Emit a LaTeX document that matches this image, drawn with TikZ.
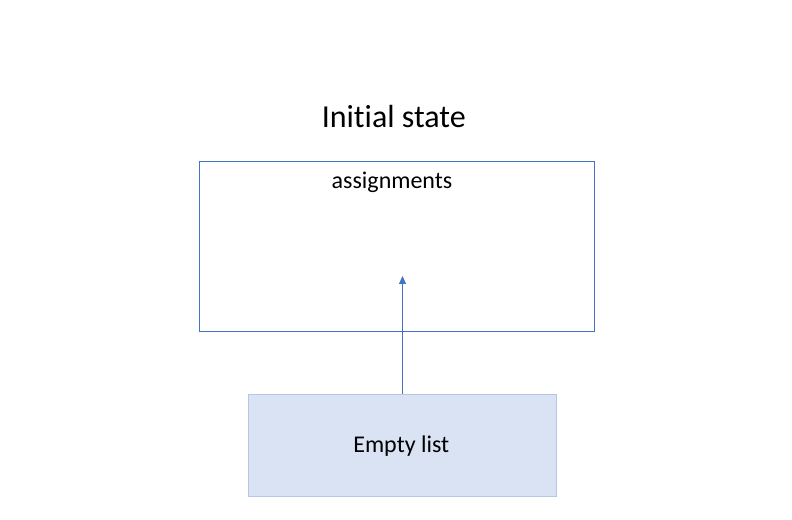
\documentclass[tikz,border=0pt]{standalone}
\usepackage{fontspec}
\setmainfont{Carlito}[RawFeature=-liga]
\usepackage{tikz}
\usetikzlibrary{arrows.meta,positioning}
\definecolor{frameblue}{HTML}{4472C4}
\definecolor{listfill}{HTML}{DAE3F3}
\definecolor{listedge}{HTML}{B4C7E7}

\begin{document}
\begin{tikzpicture}[
    x=1bp, y=1bp,
    >={Triangle[length=8bp,width=7bp]},
    title/.style={
		font=\fontsize{32bp}{38bp}\selectfont,
		anchor=base,
		inner sep=0pt
	},
    frame/.style={
		rectangle,
		draw=frameblue,
		line width=0.9bp,
		minimum width=395bp,
		minimum height=170bp,
		inner sep=0pt
	},
    listbox/.style={
		rectangle,
		draw=listedge,
		fill=listfill,
		line width=0.9bp,
		minimum width=308bp,
		minimum height=102bp,
		font=\fontsize{24bp}{29bp}\selectfont
	},
	label/.style={
		font=\fontsize{24bp}{29bp}\selectfont,
		anchor=base,
		inner sep=0pt
	}
  ]
    % page size of the reference
  \useasboundingbox (0,0) rectangle (792,520);

    % We start by placing the blocks
  \node [frame] (assign) at (397,273.7) {};
  \node [title] (state) at (393.8,392) {Initial state};
  \node [label] (assignlabel) at (392,331) {assignments};

  \node [listbox] (empty) at (402.5,74.8) {};
  \node [label] (emptylabel) at (401.3,67.5) {Empty list};
  \coordinate (tip) at (402.5,244);

  \draw [->, frameblue, line width=0.8bp] (empty.north) -- (tip);

\end{tikzpicture}
\end{document}
